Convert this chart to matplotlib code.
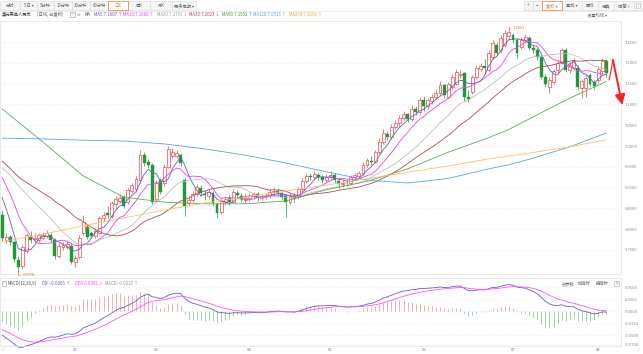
import matplotlib
matplotlib.use('Agg')
import matplotlib.pyplot as plt
from matplotlib.patches import Rectangle
from matplotlib.lines import Line2D
import numpy as np
import pandas as pd

plt.rcParams['font.family'] = ['Noto Sans CJK SC', 'DejaVu Sans']

W, H = 643, 354

# month ticks (index of first trading day of each month)
months = ['02', '03', '04', '05', '06', '07', '08']
month_idx = [18, 38, 61, 81, 104, 126, 147]

# closes before the first visible candle (only used to start the MA / MACD lines)
pre_close = [7.18, 7.21, 7.21, 7.22, 7.23, 7.25, 7.24, 7.19, 7.30, 7.30,
             7.22, 7.25, 7.27, 7.30, 7.29, 7.33, 7.30, 7.26, 7.24, 7.25,
             7.26, 7.15, 7.11, 7.05, 7.04, 7.10, 7.15, 7.13, 7.16, 7.17,
             7.15, 7.05, 7.03, 7.04, 7.00, 6.98, 6.97, 6.96, 6.96, 6.98,
             6.98, 6.97, 6.95, 6.98, 6.96, 6.96, 6.99, 6.98, 6.98, 6.97,
             6.98, 6.98, 6.98, 6.96, 6.97, 6.97, 6.92, 6.92, 6.90, 6.86]

# daily candles, USD/CNH
open_ = [6.835, 6.775, 6.782, 6.770, 6.727, 6.712, 6.748, 6.782, 6.776, 6.775,
         6.780, 6.783, 6.785, 6.774, 6.735, 6.757, 6.758, 6.760, 6.722, 6.733,
         6.792, 6.805, 6.790, 6.783, 6.792, 6.826, 6.838, 6.832, 6.860, 6.868,
         6.878, 6.866, 6.892, 6.896, 6.918, 6.978, 6.962, 6.955, 6.872, 6.918,
         6.910, 6.950, 6.975, 6.975, 6.978, 6.918, 6.862, 6.870, 6.885, 6.900,
         6.885, 6.880, 6.886, 6.860, 6.842, 6.866, 6.874, 6.866, 6.888, 6.880,
         6.870, 6.874, 6.880, 6.884, 6.876, 6.878, 6.880, 6.890, 6.892, 6.886,
         6.880, 6.866, 6.880, 6.878, 6.896, 6.915, 6.928, 6.926, 6.930, 6.925,
         6.918, 6.925, 6.930, 6.915, 6.908, 6.912, 6.910, 6.925, 6.928, 6.934,
         6.955, 6.965, 6.962, 6.985, 7.010, 7.030, 7.022, 7.045, 7.055, 7.068,
         7.076, 7.066, 7.090, 7.082, 7.110, 7.095, 7.108, 7.118, 7.128, 7.147,
         7.118, 7.142, 7.150, 7.170, 7.175, 7.118, 7.130, 7.166, 7.186, 7.192,
         7.183, 7.214, 7.243, 7.230, 7.243, 7.265, 7.267, 7.255, 7.238, 7.255,
         7.260, 7.236, 7.230, 7.214, 7.166, 7.142, 7.154, 7.183, 7.200, 7.230,
         7.183, 7.188, 7.188, 7.140, 7.140, 7.170, 7.154, 7.158, 7.180, 7.205]
high = [6.845, 6.792, 6.786, 6.772, 6.735, 6.762, 6.792, 6.795, 6.790, 6.792,
        6.794, 6.797, 6.790, 6.778, 6.766, 6.770, 6.772, 6.766, 6.738, 6.786,
        6.835, 6.812, 6.796, 6.802, 6.832, 6.842, 6.855, 6.868, 6.880, 6.884,
        6.882, 6.900, 6.912, 6.928, 6.990, 6.985, 6.968, 6.958, 6.918, 6.924,
        6.956, 7.000, 6.995, 6.990, 6.982, 6.922, 6.880, 6.892, 6.908, 6.906,
        6.895, 6.896, 6.892, 6.866, 6.875, 6.880, 6.882, 6.896, 6.894, 6.886,
        6.884, 6.888, 6.890, 6.890, 6.884, 6.886, 6.896, 6.902, 6.898, 6.890,
        6.884, 6.888, 6.886, 6.902, 6.922, 6.935, 6.936, 6.940, 6.936, 6.930,
        6.932, 6.940, 6.934, 6.920, 6.918, 6.920, 6.930, 6.936, 6.940, 6.962,
        6.972, 6.975, 6.990, 7.020, 7.040, 7.036, 7.052, 7.062, 7.075, 7.085,
        7.080, 7.098, 7.096, 7.118, 7.120, 7.116, 7.124, 7.136, 7.156, 7.150,
        7.154, 7.172, 7.184, 7.182, 7.178, 7.135, 7.170, 7.194, 7.200, 7.210,
        7.230, 7.256, 7.250, 7.266, 7.278, 7.2853, 7.272, 7.260, 7.262, 7.270,
        7.264, 7.242, 7.236, 7.218, 7.172, 7.165, 7.186, 7.206, 7.236, 7.236,
        7.202, 7.212, 7.194, 7.162, 7.170, 7.176, 7.158, 7.190, 7.212, 7.210]
low = [6.772, 6.768, 6.762, 6.722, 6.6978, 6.705, 6.742, 6.768, 6.770, 6.770,
       6.774, 6.778, 6.770, 6.728, 6.730, 6.750, 6.752, 6.716, 6.710, 6.728,
       6.786, 6.776, 6.780, 6.778, 6.788, 6.820, 6.826, 6.828, 6.852, 6.862,
       6.850, 6.860, 6.886, 6.890, 6.912, 6.952, 6.948, 6.860, 6.866, 6.884,
       6.905, 6.946, 6.968, 6.970, 6.952, 6.832, 6.855, 6.865, 6.880, 6.880,
       6.870, 6.872, 6.855, 6.826, 6.836, 6.858, 6.858, 6.862, 6.876, 6.866,
       6.862, 6.868, 6.872, 6.868, 6.870, 6.872, 6.874, 6.884, 6.880, 6.872,
       6.830, 6.860, 6.866, 6.872, 6.890, 6.910, 6.918, 6.920, 6.918, 6.910,
       6.912, 6.920, 6.910, 6.900, 6.902, 6.903, 6.906, 6.920, 6.922, 6.930,
       6.950, 6.955, 6.958, 6.980, 7.005, 7.015, 7.018, 7.040, 7.048, 7.062,
       7.058, 7.060, 7.075, 7.078, 7.085, 7.088, 7.102, 7.112, 7.122, 7.116,
       7.112, 7.138, 7.146, 7.164, 7.108, 7.105, 7.125, 7.160, 7.180, 7.174,
       7.178, 7.208, 7.218, 7.224, 7.238, 7.256, 7.248, 7.212, 7.232, 7.248,
       7.230, 7.224, 7.206, 7.160, 7.142, 7.127, 7.148, 7.176, 7.196, 7.178,
       7.176, 7.182, 7.136, 7.115, 7.118, 7.144, 7.138, 7.152, 7.174, 7.165]
close = [6.780, 6.782, 6.770, 6.728, 6.708, 6.757, 6.786, 6.775, 6.780, 6.785,
         6.786, 6.790, 6.774, 6.735, 6.760, 6.762, 6.764, 6.722, 6.730, 6.780,
         6.818, 6.782, 6.784, 6.795, 6.826, 6.835, 6.833, 6.862, 6.872, 6.876,
         6.855, 6.894, 6.906, 6.920, 6.978, 6.960, 6.955, 6.866, 6.910, 6.890,
         6.950, 6.992, 6.985, 6.982, 6.958, 6.855, 6.870, 6.885, 6.902, 6.888,
         6.882, 6.890, 6.862, 6.838, 6.868, 6.872, 6.866, 6.890, 6.882, 6.872,
         6.876, 6.880, 6.884, 6.876, 6.878, 6.880, 6.890, 6.893, 6.886, 6.878,
         6.866, 6.880, 6.872, 6.896, 6.916, 6.928, 6.926, 6.932, 6.925, 6.918,
         6.925, 6.930, 6.918, 6.908, 6.912, 6.910, 6.925, 6.930, 6.934, 6.955,
         6.966, 6.962, 6.985, 7.010, 7.032, 7.022, 7.045, 7.055, 7.068, 7.076,
         7.065, 7.090, 7.082, 7.110, 7.095, 7.110, 7.118, 7.128, 7.147, 7.123,
         7.148, 7.166, 7.178, 7.174, 7.118, 7.114, 7.166, 7.188, 7.192, 7.188,
         7.224, 7.248, 7.224, 7.260, 7.272, 7.275, 7.255, 7.224, 7.255, 7.262,
         7.236, 7.230, 7.214, 7.166, 7.150, 7.158, 7.180, 7.200, 7.230, 7.183,
         7.195, 7.205, 7.142, 7.156, 7.163, 7.150, 7.145, 7.185, 7.205, 7.175]

# long moving averages at every 10th candle
ma_idx = [0, 10, 20, 30, 40, 50, 60, 70, 80, 90, 100, 110, 120, 125, 130, 140, 149]
ma60 = [7.089, 7.010, 6.928, 6.877, 6.865, 6.861, 6.861, 6.868, 6.895, 6.915,
        6.945, 6.985, 7.020, 7.040, 7.065, 7.115, 7.155]
ma120 = [7.019, 7.017, 7.014, 7.012, 7.005, 6.993, 6.978, 6.959, 6.938, 6.918,
         6.911, 6.922, 6.945, 6.955, 6.968, 6.998, 7.031]
ma250 = [6.770, 6.788, 6.808, 6.827, 6.846, 6.863, 6.877, 6.892, 6.906, 6.921,
         6.937, 6.952, 6.969, 6.976, 6.983, 6.998, 7.015]

RED = '#f04646'
GREEN = '#1f9a3a'
C5, C10, C20, C30 = '#6060c8', '#f040f0', '#bdbdbd', '#a85050'
C60, C120, C250 = '#60aa60', '#5aa2e6', '#ffc060'
ORANGE = '#e8782a'
GRID = '#ececec'


def box(x0, y0, x1, y1):
    return [x0 / W, 1 - y1 / H, (x1 - x0) / W, (y1 - y0) / H]


def fx(x):
    return x / W


def fy(y):
    return 1 - y / H


fig = plt.figure(figsize=(W / 100, H / 100), dpi=100)
fig.patch.set_facecolor('white')

# ---------------- price panel
ax = fig.add_axes(box(0, 21, 621, 274))
n = len(close)
x = np.arange(n)
o, h, l, c = map(np.array, (open_, high, low, close))
up = c >= o
dn = ~up
body = np.maximum(np.abs(c - o), 0.0008)

ax.vlines(x[dn], l[dn], h[dn], color=GREEN, lw=0.5, zorder=2)
ax.bar(x[dn], body[dn], bottom=np.minimum(o, c)[dn], width=0.72,
       color=GREEN, edgecolor=GREEN, lw=0.3, zorder=3)
ax.vlines(x[up], l[up], h[up], color=RED, lw=0.5, zorder=2)
ax.bar(x[up], body[up], bottom=np.minimum(o, c)[up], width=0.72,
       facecolor='white', edgecolor=RED, lw=0.5, zorder=3)

s = pd.Series(pre_close + close)
k = len(pre_close)
for win, col in [(5, C5), (10, C10), (20, C20), (30, C30)]:
    ma = s.rolling(win).mean().iloc[k:].values
    ax.plot(x, ma, color=col, lw=0.6, zorder=4)
ax.plot(ma_idx, ma60, color=C60, lw=0.6, zorder=4)
ax.plot(ma_idx, ma120, color=C120, lw=0.6, zorder=4)
ax.plot(ma_idx, ma250, color=C250, lw=0.6, zorder=4)

# highest / lowest markers
il = int(np.argmin(l))
ih = int(np.argmax(h))
ax.annotate(f'{l[il]:.4f}', xy=(il, l[il]), xytext=(3, -2.2), textcoords='offset points',
            fontsize=2.9, color=ORANGE, va='center', ha='left',
            arrowprops=dict(arrowstyle='-', color=ORANGE, lw=0.4, shrinkA=0, shrinkB=0,
                            connectionstyle='angle,angleA=0,angleB=90,rad=0'))
ax.annotate(f'{h[ih]:.4f}', xy=(ih, h[ih]), xytext=(3, -0.6), textcoords='offset points',
            fontsize=2.9, color=ORANGE, va='center', ha='left',
            arrowprops=dict(arrowstyle='-', color=ORANGE, lw=0.4, shrinkA=0, shrinkB=0,
                            connectionstyle='angle,angleA=0,angleB=90,rad=0'))

ax.set_xlim(-0.54, 152.65)
ax.set_ylim(6.6923, 7.3005)
yt = np.round(np.arange(6.75, 7.2501, 0.05), 2)
ax.yaxis.tick_right()
ax.set_yticks(yt)
ax.set_yticklabels([f'{v:.4f}' for v in yt])
ax.tick_params(axis='y', length=0, pad=3, labelsize=2.9, labelcolor='#888888')
ax.set_xticks([])
ax.grid(axis='y', color=GRID, ls=(0, (2, 2)), lw=0.4)
for sp in ax.spines.values():
    sp.set_color('#e2e2e2')
    sp.set_linewidth(0.5)

# hand-drawn red arrow at the right edge
ax.annotate('', xy=(0.987, 0.846), xytext=(0.981, 0.767), xycoords='axes fraction',
            arrowprops=dict(arrowstyle='-', color='#ff2020', lw=0.8, shrinkA=0, shrinkB=0),
            annotation_clip=False)
ax.annotate('', xy=(1.002, 0.668), xytext=(0.987, 0.846), xycoords='axes fraction',
            arrowprops=dict(arrowstyle='-|>,head_length=0.6,head_width=0.3', color='#ff2020',
                            lw=1.4, shrinkA=0, shrinkB=0),
            annotation_clip=False)

# ---------------- MACD panel
axm = fig.add_axes(box(0, 278, 621, 346))
ema12 = s.ewm(span=12, adjust=False).mean()
ema26 = s.ewm(span=26, adjust=False).mean()
dif = (ema12 - ema26)
dea = dif.ewm(span=9, adjust=False).mean()
hist = (2 * (dif - dea)).iloc[k:].values
dif = dif.iloc[k:].values
dea = dea.iloc[k:].values
pos = hist >= 0
axm.vlines(x[pos], 0, hist[pos], color='#f4a0a0', lw=0.6)
axm.vlines(x[~pos], 0, hist[~pos], color='#8ccc8c', lw=0.6)
axm.plot(x, dif, color=C5, lw=0.6, clip_on=False)
axm.plot(x, dea, color='#ff50ff', lw=0.6, clip_on=False)
axm.set_xlim(-0.54, 152.65)
axm.set_ylim(-0.0729, 0.06875)
mt = [0.05, 0.025, 0.0, -0.025, -0.05, -0.07]
axm.yaxis.tick_right()
axm.set_yticks(mt)
axm.set_yticklabels([f'{v:.4f}' for v in mt])
axm.tick_params(axis='y', length=0, pad=3, labelsize=2.9, labelcolor='#888888')
axm.set_xticks(month_idx)
axm.set_xticklabels(months)
axm.tick_params(axis='x', length=0, pad=1.5, labelsize=2.9, labelcolor='#777777')
axm.grid(axis='y', color=GRID, ls=(0, (2, 2)), lw=0.4)
for sp in axm.spines.values():
    sp.set_color('#e2e2e2')
    sp.set_linewidth(0.5)

FS = 3.1

# ---------------- top toolbar
tabs = [('分时', 0, 20), ('5日 ▾', 20, 37), ('5分钟', 37, 54), ('15分钟', 54, 72),
        ('30分钟', 72, 90), ('60分钟', 90, 108), ('日K', 108, 128), ('周K', 128, 150),
        ('月K', 150, 172), ('更多周期 ▾', 172, 196)]
right_tabs = [('+', 524, 533), ('−', 533, 542), ('复权 ▾', 542, 562), ('叠加 ▾', 562, 582),
              ('画线', 582, 598), ('经典', 598, 614), ('隐藏 »', 614, 634), ('', 634, 643)]
for name, x0, x1 in tabs + right_tabs:
    sel = name in ('日K', '复权 ▾')
    fig.add_artist(Rectangle((fx(x0), fy(10)), (x1 - x0) / W, 9 / H, transform=fig.transFigure,
                             facecolor='white' if sel else '#f6f6f6',
                             edgecolor=ORANGE if sel else '#dedede', lw=0.5, zorder=5 if sel else 4))
    if name:
        fig.text(fx((x0 + x1) / 2), fy(5.6), name, fontsize=FS, ha='center', va='center',
                 color=ORANGE if sel else '#666666', zorder=6)
# full-screen icon
fig.add_artist(Rectangle((fx(636), fy(8)), 4 / W, 5 / H, transform=fig.transFigure,
                         facecolor='none', edgecolor='#888888', lw=0.4, ls=(0, (1, 1)), zorder=6))
fig.add_artist(Line2D([0, 1], [fy(11), fy(11)], transform=fig.transFigure, color='#e6e6e6', lw=0.5))

# ---------------- MA legend row
fig.text(fx(2), fy(14.5), '美元离岸人民币', fontsize=FS, color='#333333', va='center')
fig.text(fx(37), fy(14.5), '(日线, 前复权)', fontsize=FS, color='#666666', va='center')
fig.add_artist(Rectangle((fx(70), fy(17)), 5 / W, 5 / H, transform=fig.transFigure,
                         facecolor='none', edgecolor='#999999', lw=0.4))
fig.text(fx(72.5), fy(14.5), '?', fontsize=2.6, color='#888888', ha='center', va='center')
fig.text(fx(77), fy(14.5), '⚙', fontsize=FS, color='#999999', va='center')
fig.text(fx(85), fy(14.5), 'MA', fontsize=FS, color='#555555', va='center')
legend = [('MA5:7.1807 ↑', 94, C5), ('MA10:7.1680 ↑', 123, C10), ('MA20:7.1791 ↓', 157, '#999999'),
          ('MA30:7.2023 ↓', 189, C30), ('MA60:7.1552 ↑', 222, '#3c9a3c'),
          ('MA120:7.0313 ↑', 253, C120), ('MA250:7.0150 ↑', 289, '#f5a623')]
for t, xx, col in legend:
    fig.text(fx(xx), fy(14.5), t, fontsize=FS, color=col, va='center')
fig.text(fx(587), fy(14.5), '设置均线 ▾', fontsize=FS, color='#666666', va='center')

# ---------------- MACD header
fig.add_artist(Rectangle((fx(1.5), fy(285.5)), 4.5 / W, 4.5 / H, transform=fig.transFigure,
                         facecolor='none', edgecolor='#999999', lw=0.4))
fig.text(fx(3.7), fy(283.3), '?', fontsize=2.4, color='#888888', ha='center', va='center')
fig.text(fx(8), fy(283.3), 'MACD(12,26,9)', fontsize=FS, color='#555555', va='center')
fig.text(fx(42), fy(283.3), 'DIF:-0.0005 ↑', fontsize=FS, color=C5, va='center')
fig.text(fx(75), fy(283.3), 'DEA:0.0001 ↓', fontsize=FS, color='#ff40ff', va='center')
fig.text(fx(105), fy(283.3), 'MACD:-0.0012 ↑', fontsize=FS, color='#999999', va='center')
for t, xx in [('改参数', 562), ('加指标', 578), ('换指标', 596)]:
    fig.text(fx(xx), fy(283.3), t, fontsize=FS, color='#666666', va='center')
fig.add_artist(Rectangle((fx(614), fy(286)), 5 / W, 5 / H, transform=fig.transFigure,
                         facecolor='none', edgecolor='#aaaaaa', lw=0.4))
fig.text(fx(616.5), fy(283.5), '×', fontsize=FS, color='#888888', ha='center', va='center')

# scroll buttons
fig.text(fx(2.5), fy(350), '◁', fontsize=2.6, color='#999999', ha='center', va='center')
fig.text(fx(638), fy(350), '▷', fontsize=2.6, color='#999999', ha='center', va='center')

fig.savefig('out.png', dpi=100)
